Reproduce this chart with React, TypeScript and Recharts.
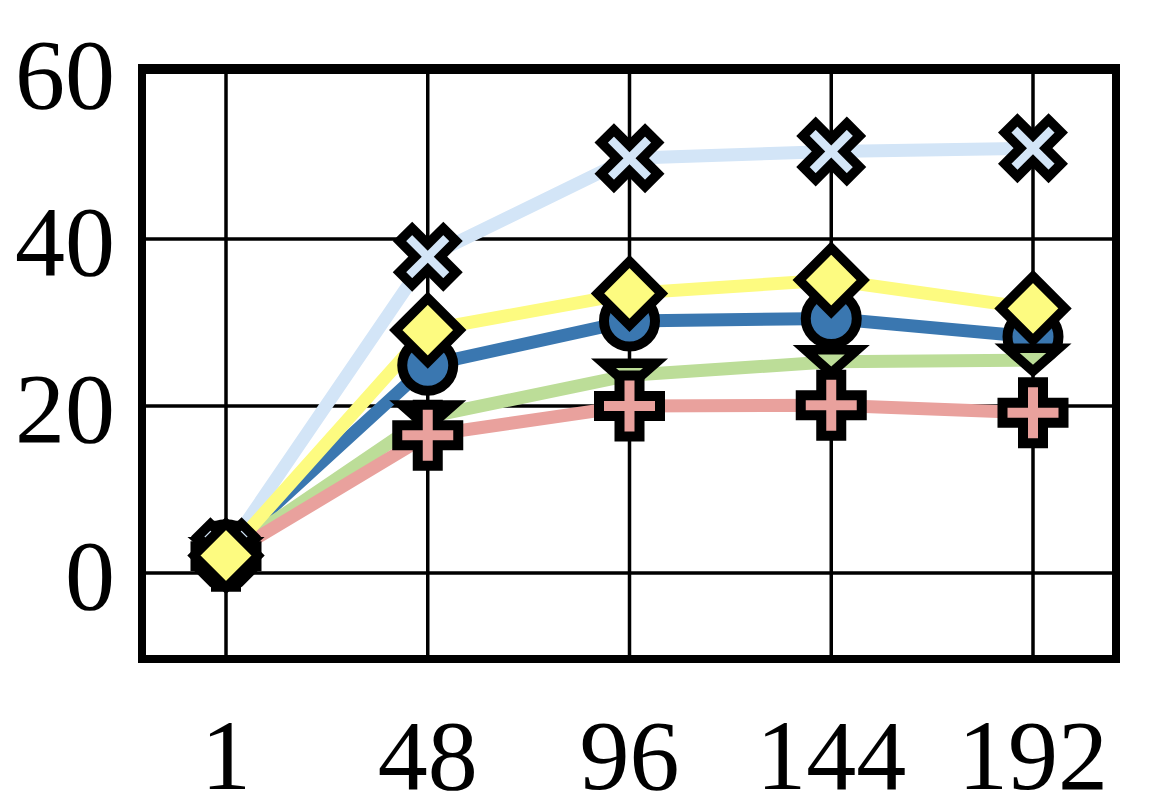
import React from "react";
import * as R from "recharts";
import { LineChart, Line, XAxis, YAxis, CartesianGrid } from "recharts";

const categories = ["1", "48", "96", "144", "192"];
const blueCircle = [2.8, 24.9, 30.2, 30.5, 28.3];
const greenTriangle = [2.3, 18.7, 23.7, 25.3, 25.5];
const pinkPlus = [2.0, 16.5, 20.0, 20.1, 19.2];
const lightBlueX = [2.5, 37.9, 49.7, 50.5, 50.9];
const yellowDiamond = [2.1, 29.1, 33.5, 35.1, 31.7];
const yTicks = [0, 20, 40, 60];

const data = categories.map((c, i) => ({
  x: c,
  blue: blueCircle[i],
  green: greenTriangle[i],
  pink: pinkPlus[i],
  light: lightBlueX[i],
  yellow: yellowDiamond[i],
}));

const C_BLUE = "#3a77b0";
const C_GREEN = "#bcdd98";
const C_PINK = "#e9a19d";
const C_LIGHT = "#d3e5f7";
const C_YELLOW = "#fdfb80";

const FONT = "'Liberation Serif', 'Times New Roman', serif";

const plusPts = (L: number, a: number) => [
  [-a, -L], [a, -L], [a, -a], [L, -a], [L, a], [a, a], [a, L], [-a, L], [-a, a], [-L, a], [-L, -a], [-a, -a],
];

const toPoly = (pts: number[][], cx: number, cy: number, rot: number) => {
  const c = Math.cos(rot), s = Math.sin(rot);
  return pts.map(([x, y]) => `${cx + x * c - y * s},${cy + x * s + y * c}`).join(" ");
};

const CircleDot = (p: any) => (
  <circle key={`c-${p.index}`} cx={p.cx} cy={p.cy} r={25.5} fill={C_BLUE} stroke="#000" strokeWidth={10} />
);
const TriDot = (p: any) => (
  <polygon
    key={`t-${p.index}`}
    points={`${p.cx - 26},${p.cy - 12} ${p.cx + 26},${p.cy - 12} ${p.cx},${p.cy + 11}`}
    fill={C_GREEN} stroke="#000" strokeWidth={9.5} strokeLinejoin="miter"
  />
);
const PlusDot = (p: any) => (
  <polygon key={`p-${p.index}`} points={toPoly(plusPts(30.5, 10), p.cx, p.cy, 0)} fill={C_PINK} stroke="#000" strokeWidth={10} strokeLinejoin="miter" />
);
const XDot = (p: any) => (
  <polygon key={`x-${p.index}`} points={toPoly(plusPts(31, 9), p.cx, p.cy, Math.PI / 4)} fill={C_LIGHT} stroke="#000" strokeWidth={9.5} strokeLinejoin="miter" />
);
const DiamondDot = (p: any) => (
  <polygon
    key={`d-${p.index}`}
    points={`${p.cx},${p.cy - 32} ${p.cx + 32},${p.cy} ${p.cx},${p.cy + 32} ${p.cx - 32},${p.cy}`}
    fill={C_YELLOW} stroke="#000" strokeWidth={9.5} strokeLinejoin="miter"
  />
);

const usePlotAreaHook: any = (R as any).usePlotArea || (R as any).useOffset || null;
const hasFrame = !!usePlotAreaHook;

const Frame = () => {
  const area = usePlotAreaHook ? usePlotAreaHook() : null;
  if (!area) return null;
  const x = area.x ?? area.left;
  const y = area.y ?? area.top;
  const w = area.width;
  const h = area.height;
  if (x == null || y == null || w == null || h == null) return null;
  return <rect x={x} y={y} width={w} height={h} fill="none" stroke="#000" strokeWidth={8} />;
};

const border = { stroke: "#000", strokeWidth: 8, strokeLinecap: "square" as const };
const tickStyle = { fontSize: 100, fontFamily: FONT, fill: "#000" };

export default function App() {
  return (
    <div style={{ position: "absolute", left: 0, top: 0, width: 1150, height: 800, background: "#fff" }}>
      <LineChart width={1150} height={800} data={data} margin={{ top: 68, right: 34, bottom: 0, left: 0 }}>
        <CartesianGrid stroke="#000" strokeWidth={3.5} />
        <XAxis
          dataKey="x"
          height={141}
          padding={{ left: 84, right: 83 }}
          axisLine={hasFrame ? false : border}
          tickLine={false}
          tickSize={0}
          tickMargin={59}
          interval={0}
          tick={tickStyle}
        />
        <YAxis
          type="number"
          domain={[-10.3, 60.5]}
          ticks={yTicks}
          width={142}
          axisLine={hasFrame ? false : border}
          tickLine={false}
          tickSize={0}
          tickMargin={27}
          interval={0}
          tick={tickStyle}
        />
        <Line dataKey="blue" stroke={C_BLUE} strokeWidth={13} isAnimationActive={false} dot={CircleDot} activeDot={false} />
        <Line dataKey="green" stroke={C_GREEN} strokeWidth={13} isAnimationActive={false} dot={TriDot} activeDot={false} />
        <Line dataKey="pink" stroke={C_PINK} strokeWidth={13} isAnimationActive={false} dot={PlusDot} activeDot={false} />
        <Line dataKey="light" stroke={C_LIGHT} strokeWidth={13} isAnimationActive={false} dot={XDot} activeDot={false} />
        <Line dataKey="yellow" stroke={C_YELLOW} strokeWidth={13} isAnimationActive={false} dot={DiamondDot} activeDot={false} />
        {hasFrame ? <Frame /> : null}
      </LineChart>
    </div>
  );
}
